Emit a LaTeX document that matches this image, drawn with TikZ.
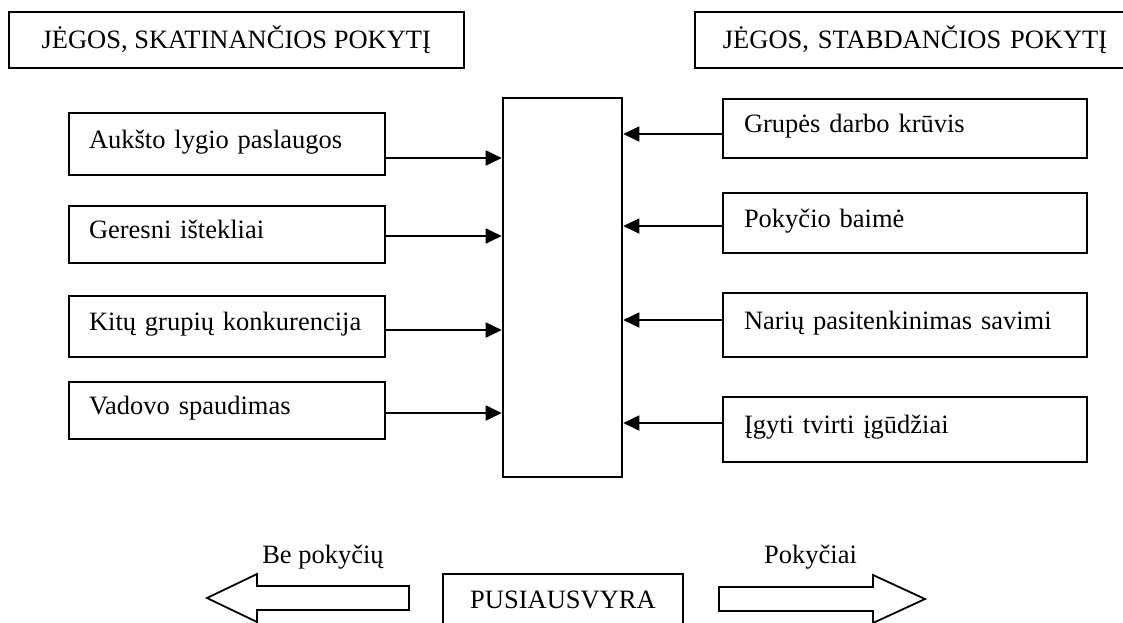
\documentclass[tikz,border=0pt]{standalone}
\usepackage{fontspec}
\setmainfont{Liberation Serif}
\usetikzlibrary{arrows.meta}

\begin{document}
\begin{tikzpicture}[x=0.5pt,y=-0.5pt,
    every node/.style={font=\fontsize{13.25}{15}\selectfont},
    box/.style={draw,line width=0.9pt,inner sep=0pt},
    force/.style={box,align=left,text height=0.65em,text depth=0.25em},
    pushbox/.style={force,text width=138pt,inner xsep=10pt},
    holdbox/.style={force,text width=161pt,inner xsep=10.5pt},
    bigarrow/.style={draw,line width=0.9pt}]
    \useasboundingbox (0,0) rectangle (1123,622);
    \clip (0,0) rectangle (1123,622);
    % headers
    \node[box,minimum width=227.7pt,minimum height=28pt] (hdL) at (236.3,40) {JĖGOS, SKATINANČIOS POKYTĮ};
    \node[box,anchor=west,text width=210pt,inner xsep=14pt,align=left,minimum height=28pt] (hdR) at (694,40) {JĖGOS, STABDANČIOS POKYTĮ};
    % forces
    \node[pushbox,minimum height=31pt] (p1) at (227,144) {Aukšto lygio paslaugos};
    \node[pushbox,minimum height=28.5pt] (p2) at (227,234.5) {Geresni ištekliai};
    \node[pushbox,minimum height=30.5pt] (p3) at (227,326.5) {Kitų grupių konkurencija};
    \node[pushbox,minimum height=28.5pt] (p4) at (227,410.5) {Vadovo spaudimas};
    \node[holdbox,minimum height=29.5pt] (h1) at (905,128.5) {Grupės darbo krūvis};
    \node[holdbox,minimum height=30pt] (h2) at (905,223) {Pokyčio baimė};
    \node[holdbox,minimum height=32pt] (h3) at (905,325) {Narių pasitenkinimas savimi};
    \node[holdbox,minimum height=32.5pt] (h4) at (905,429.5) {Įgyti tvirti įgūdžiai};
    \node[draw,line width=1.3pt,inner sep=0pt,minimum width=59.5pt,minimum height=189.5pt] (bal) at (562.5,287.5) {};
    \path[-{Triangle[length=8pt,width=7.5pt]},line width=0.9pt]
    (p1.east |- 0,158) edge (bal.west |- 0,158)
    (p2.east |- 0,236) edge (bal.west |- 0,236)
    (p3.east |- 0,330) edge (bal.west |- 0,330)
    (p4.east |- 0,413) edge (bal.west |- 0,413)
    (h1.west |- 0,134) edge (bal.east |- 0,134)
    (h2.west |- 0,226) edge (bal.east |- 0,226)
    (h3.west |- 0,320) edge (bal.east |- 0,320)
    (h4.west |- 0,423) edge (bal.east |- 0,423);
    % bottom
    \node (nochg) at (323,557) {Be pokyčių};
    \node (chg) at (810.5,557) {Pokyčiai};
    \node[box,minimum width=120pt,minimum height=26pt] (eq) at (563,600) {PUSIAUSVYRA};
    \draw[bigarrow] (207,598) -- (257,574) -- (257,586) -- (409,586) -- (409,610) -- (257,610) -- (257,622) -- cycle;
    \draw[bigarrow] (925,599) -- (873,575) -- (873,587) -- (719,587) -- (719,611) -- (873,611) -- (873,623) -- cycle;
\end{tikzpicture}
\end{document}
